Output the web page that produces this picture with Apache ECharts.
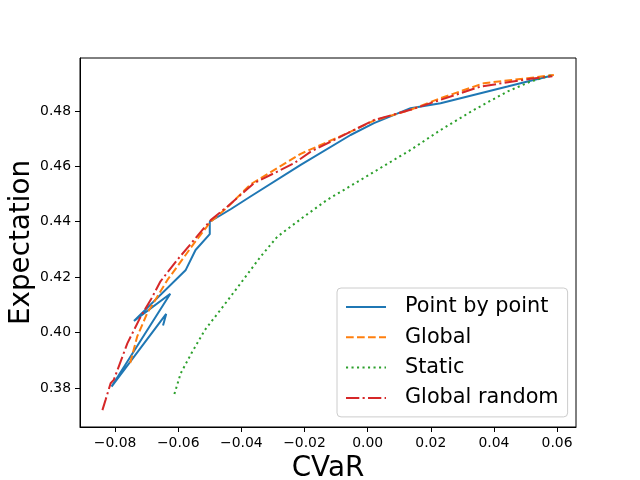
<!DOCTYPE html>
<html lang="en">

<head>
    <meta charset="UTF-8">
    <title>CVaR / Expectation</title>
    <script src="https://cdn.jsdelivr.net/npm/echarts@6.0.0/dist/echarts.min.js"></script>
    <style>
        * {
            margin: 0;
            padding: 0
        }

        html,
        body {
            width: 100%;
            height: 100%;
            background: #fff;
        }

        #main {
            width: 640px;
            height: 480px;
        }
    </style>
</head>

<body>
    <div id="main"></div>
    <script type="text/javascript">
        // [CVaR, Expectation] pairs
        var pointByPoint = [
            [0.0585, 0.4928], [0.0516, 0.4909], [0.0443, 0.4888], [0.0231, 0.4828],
            [0.0136, 0.4810], [0.0020, 0.4756], [-0.0054, 0.4713], [-0.0212, 0.4605],
            [-0.0371, 0.4491], [-0.0434, 0.4445], [-0.0500, 0.4400], [-0.0500, 0.4355],
            [-0.0545, 0.4298], [-0.0576, 0.4226], [-0.0740, 0.4042], [-0.0625, 0.4140],
            [-0.0811, 0.3805], [-0.0638, 0.4067], [-0.0648, 0.4025]
        ];
        var globalOpt = [
            [-0.0752, 0.3890], [-0.0730, 0.3985], [-0.0698, 0.4070], [-0.0666, 0.4130],
            [-0.0634, 0.4190], [-0.0603, 0.4238], [-0.0550, 0.4322], [-0.0497, 0.4400],
            [-0.0444, 0.4452], [-0.0371, 0.4535], [-0.0212, 0.4645], [-0.0054, 0.4725],
            [0.0020, 0.4765], [0.0136, 0.4804], [0.0231, 0.4846], [0.0368, 0.4900],
            [0.0506, 0.4918], [0.0590, 0.4930]
        ];
        var staticOpt = [
            [-0.0612, 0.3778], [-0.0592, 0.3853], [-0.0558, 0.3925], [-0.0515, 0.4010],
            [-0.0466, 0.4082], [-0.0404, 0.4175], [-0.0339, 0.4274], [-0.0286, 0.4346],
            [-0.0202, 0.4418], [-0.0128, 0.4479], [-0.0022, 0.4551], [0.0083, 0.4623],
            [0.0136, 0.4659], [0.0231, 0.4731], [0.0337, 0.4804], [0.0443, 0.4870],
            [0.0516, 0.4906], [0.0585, 0.4930]
        ];
        var globalRandom = [
            [-0.0840, 0.3720], [-0.0830, 0.3757], [-0.0814, 0.3817], [-0.0804, 0.3829],
            [-0.0761, 0.3961], [-0.0719, 0.4057], [-0.0687, 0.4118], [-0.0656, 0.4185],
            [-0.0603, 0.4262], [-0.0550, 0.4334], [-0.0497, 0.4406], [-0.0444, 0.4455],
            [-0.0360, 0.4539], [-0.0233, 0.4611], [-0.0180, 0.4653], [-0.0054, 0.4725],
            [0.0020, 0.4767], [0.0136, 0.4804], [0.0231, 0.4840], [0.0358, 0.4888],
            [0.0516, 0.4916], [0.0585, 0.4925]
        ];
        var xTicks = [-0.08, -0.06, -0.04, -0.02, 0.00, 0.02, 0.04, 0.06];
        var yTicks = [0.38, 0.40, 0.42, 0.44, 0.46, 0.48];

        var font = 'DejaVu Sans';

        function fmt(v) {
            return (v < 0 ? '\u2212' : '') + Math.abs(v).toFixed(2);
        }

        function lineSeries(name, data, color, dash) {
            return {
                name: name,
                type: 'line',
                data: data,
                symbol: 'none',
                showSymbol: false,
                lineStyle: {
                    color: color,
                    width: 2,
                    type: dash
                },
                itemStyle: {
                    color: color
                }
            };
        }

        var myChart = echarts.init(document.getElementById('main'));
        var option = {
            animation: false,
            backgroundColor: '#fff',
            grid: {
                left: 80,
                top: 58,
                right: 64,
                bottom: 53,
                outerBoundsMode: 'none',
                show: true,
                borderColor: '#000',
                borderWidth: 1
            },
            xAxis: {
                type: 'value',
                min: -0.0911,
                max: 0.066,
                name: 'CVaR',
                nameLocation: 'middle',
                nameGap: 22,
                nameTextStyle: {
                    fontFamily: font,
                    fontSize: 27.8,
                    color: '#000'
                },
                splitLine: { show: false },
                axisLine: { onZero: false, lineStyle: { color: '#000', width: 1 } },
                axisTick: {
                    customValues: xTicks,
                    length: 5,
                    lineStyle: { color: '#000' }
                },
                axisLabel: {
                    customValues: xTicks,
                    formatter: fmt,
                    margin: 9,
                    fontFamily: font,
                    fontSize: 13.9,
                    color: '#000'
                }
            },
            yAxis: {
                type: 'value',
                min: 0.3659,
                max: 0.4991,
                name: 'Expectation',
                nameLocation: 'middle',
                nameGap: 44,
                nameMoveOverlap: false,
                nameTextStyle: {
                    fontFamily: font,
                    fontSize: 27.8,
                    color: '#000'
                },
                splitLine: { show: false },
                axisLine: { show: true, onZero: false, lineStyle: { color: '#000', width: 1 } },
                axisTick: {
                    show: true,
                    customValues: yTicks,
                    length: 5,
                    lineStyle: { color: '#000' }
                },
                axisLabel: {
                    customValues: yTicks,
                    formatter: function (v) { return v.toFixed(2); },
                    margin: 9,
                    fontFamily: font,
                    fontSize: 13.9,
                    color: '#000'
                }
            },
            legend: {
                orient: 'vertical',
                left: 337,
                top: 288,
                padding: [8, 9, 8, 8],
                itemWidth: 40,
                itemHeight: 14,
                itemGap: 8.3,
                itemStyle: { opacity: 0 },
                backgroundColor: 'rgba(255,255,255,0.8)',
                borderColor: '#cccccc',
                borderWidth: 1,
                borderRadius: 4,
                textStyle: {
                    fontFamily: font,
                    fontSize: 20.8,
                    lineHeight: 22,
                    color: '#000',
                    padding: [0, 0, 0, 14]
                },
                data: ['Point by point', 'Global', 'Static', 'Global random']
            },
            series: [
                lineSeries('Point by point', pointByPoint, '#1f77b4', 'solid'),
                lineSeries('Global', globalOpt, '#ff7f0e', [7.7, 3.3]),
                lineSeries('Static', staticOpt, '#2ca02c', [2.1, 3.4]),
                lineSeries('Global random', globalRandom, '#d62728', [13.3, 3.3, 2.1, 3.3])
            ]
        };
        myChart.setOption(option);
    </script>
</body>

</html>
